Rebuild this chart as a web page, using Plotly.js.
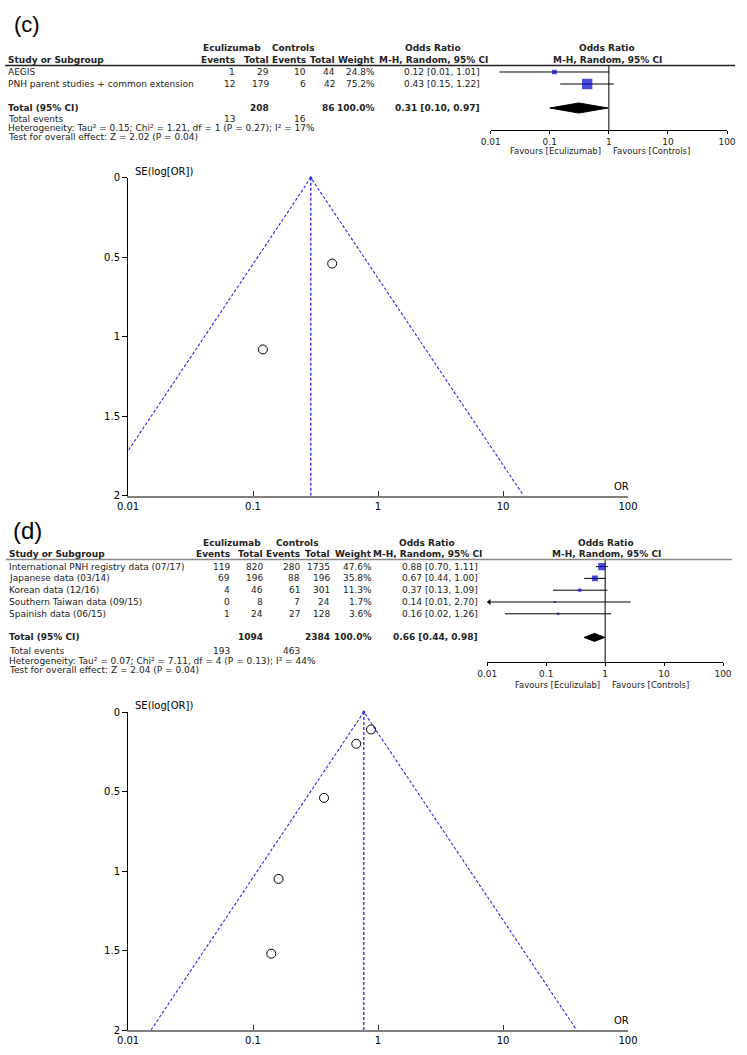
<!DOCTYPE html>
<html>
<head>
<meta charset="utf-8">
<script src="https://cdn.plot.ly/plotly-3.0.1.min.js"></script>
<style>
  body { margin: 0; background: #fff; }
  #graph { width: 747px; height: 1055px; }
</style>
</head>
<body>
<div id="graph"></div>
<script>
// ---- (c) Eculizumab vs controls ----
const cStudies = ['AEGIS', 'PNH parent studies + common extension'];
const cEcuEvents = [1, 12];
const cEcuTotal = [29, 179];
const cCtrlEvents = [10, 6];
const cCtrlTotal = [44, 42];
const cWeight = [24.8, 75.2];
const cOR = [0.12, 0.43];
const cLow = [0.014, 0.15];
const cHigh = [1.01, 1.22];
const cOrText = ['0.12 [0.01, 1.01]', '0.43 [0.15, 1.22]'];
const cPooled = [0.10, 0.31, 0.97];          // low, estimate, high
const cTotals = ['208', '86', '100.0%', '0.31 [0.10, 0.97]'];
const cTotalEvents = ['13', '16'];
const cHetero = 'Heterogeneity: Tau² = 0.15; Chi² = 1.21, df = 1 (P = 0.27); I² = 17%';
const cTest = 'Test for overall effect: Z = 2.02 (P = 0.04)';
const cFunnelOR = [0.12, 0.43];
const cFunnelSE = [1.08, 0.54];
const cFunnelCenter = 0.29;

// ---- (d) registry data ----
const dStudies = ['International PNH registry data (07/17)', 'Japanese data (03/14)',
  'Korean data (12/16)', 'Southern Taiwan data (09/15)', 'Spainish data (06/15)'];
const dEcuEvents = [119, 69, 4, 0, 1];
const dEcuTotal = [820, 196, 46, 8, 24];
const dCtrlEvents = [280, 88, 61, 7, 27];
const dCtrlTotal = [1735, 196, 301, 24, 128];
const dWeight = [47.6, 35.8, 11.3, 1.7, 3.6];
const dOR = [0.88, 0.67, 0.37, 0.14, 0.16];
const dLow = [0.70, 0.44, 0.13, 0.007, 0.02];
const dHigh = [1.11, 1.00, 1.09, 2.70, 1.26];
const dOrText = ['0.88 [0.70, 1.11]', '0.67 [0.44, 1.00]', '0.37 [0.13, 1.09]',
  '0.14 [0.01, 2.70]', '0.16 [0.02, 1.26]'];
const dPooled = [0.44, 0.66, 0.98];
const dTotals = ['1094', '2384', '100.0%', '0.66 [0.44, 0.98]'];
const dTotalEvents = ['193', '463'];
const dHetero = 'Heterogeneity: Tau² = 0.07; Chi² = 7.11, df = 4 (P = 0.13); I² = 44%';
const dTest = 'Test for overall effect: Z = 2.04 (P = 0.04)';
const dFunnelOR = [0.88, 0.67, 0.37, 0.14, 0.16];
const dFunnelSE = [0.11, 0.20, 0.54, 1.52, 1.05];
const dFunnelCenter = 0.77;

const orTicks = [0.01, 0.1, 1, 10, 100];
const orTickText = ['0.01', '0.1', '1', '10', '100'];

const W = 747, H = 1055;
const px = v => v / W;
const py = v => 1 - v / H;
const TF = 'DejaVu Sans, Verdana, sans-serif';
const BLUE = '#0000cc';
const FUNNEL_BLUE = '#2626ff';

let traces = [], annotations = [], shapes = [];

function txt(text, x, y, anchor, opts) {
    opts = opts || {};
    annotations.push({
        text: opts.bold ? '<b>' + text + '</b>' : text,
        x: px(x), xref: 'paper',
        y: opts.yref ? y : py(y), yref: opts.yref || 'paper',
        xanchor: anchor, yanchor: 'middle', showarrow: false,
        font: { family: opts.family || TF, size: opts.size || 9, color: opts.color || '#222' }
    });
}

// cfg: pixel geometry of one forest panel
function forestPanel(s, cfg) {
    const n = s.studies.length, xa = 'x' + cfg.ax, ya = 'y' + cfg.ax, yr = 'y' + cfg.ax;
    const totalRow = n + 1;
    txt(s.label, cfg.labelX, cfg.labelY, 'left', { size: cfg.labelSize, family: 'Liberation Sans, Arial, sans-serif', color: '#000' });
    // headers
    txt('Eculizumab', cfg.ecuHead, cfg.head1, 'center', { bold: true });
    txt('Controls', cfg.ctrlHead, cfg.head1, 'center', { bold: true });
    txt('Odds Ratio', cfg.orHead, cfg.head1, 'center', { bold: true });
    txt('Odds Ratio', cfg.forestHead, cfg.head1, 'center', { bold: true });
    txt('Study or Subgroup', cfg.left, cfg.head2, 'left', { bold: true });
    const cols = cfg.cols;
    ['Events', 'Total', 'Events', 'Total', 'Weight'].forEach((h, i) => txt(h, cols[i], cfg.head2, 'right', { bold: true }));
    txt('M-H, Random, 95% CI', cfg.orHead, cfg.head2, 'center', { bold: true });
    txt('M-H, Random, 95% CI', cfg.forestHead, cfg.head2, 'center', { bold: true });
    shapes.push({ type: 'line', xref: 'paper', yref: 'paper', x0: px(cfg.left - 1), x1: px(cfg.lineEnd),
        y0: py(cfg.lineY), y1: py(cfg.lineY), line: { color: cfg.lineColor, width: 1.3 } });

    // study rows
    s.studies.forEach((name, i) => {
        const o = { yref: yr };
        txt(name, cfg.left, i, 'left', o);
        txt(String(s.ecuEvents[i]), cols[0], i, 'right', o);
        txt(String(s.ecuTotal[i]), cols[1], i, 'right', o);
        txt(String(s.ctrlEvents[i]), cols[2], i, 'right', o);
        txt(String(s.ctrlTotal[i]), cols[3], i, 'right', o);
        txt(s.weight[i].toFixed(1) + '%', cols[4], i, 'right', o);
        txt(s.orText[i], cols[5], i, 'right', o);
    });
    // total row
    txt('Total (95% CI)', cfg.left, totalRow, 'left', { yref: yr, bold: true });
    txt(s.totals[0], cols[1], totalRow, 'right', { yref: yr, bold: true });
    txt(s.totals[1], cols[3], totalRow, 'right', { yref: yr, bold: true });
    txt(s.totals[2], cols[4], totalRow, 'right', { yref: yr, bold: true });
    txt(s.totals[3], cols[5], totalRow, 'right', { yref: yr, bold: true });
    txt('Total events', cfg.left, cfg.evY, 'left');
    txt(s.totalEvents[0], cols[0], cfg.evY, 'right');
    txt(s.totalEvents[1], cols[2], cfg.evY, 'right');
    txt(s.hetero, cfg.left, cfg.hetY, 'left');
    txt(s.test, cfg.left, cfg.testY, 'left');
    txt('Favours [' + s.favName + ']', cfg.favSplit - 4, cfg.favY, 'right', { size: 8.5 });
    txt('Favours [Controls]', cfg.favSplit + 4, cfg.favY, 'left', { size: 8.5 });

    const rows = s.studies.map((_, i) => i);
    // reference line at OR = 1
    traces.push({ x: [1, 1], y: [cfg.yTop, cfg.yBottom], xaxis: xa, yaxis: ya, mode: 'lines',
        line: { color: '#000', width: 1 }, hoverinfo: 'skip' });
    // CI whiskers
    const cx = [], cy = [];
    rows.forEach(i => { cx.push(s.low[i], s.high[i], null); cy.push(i, i, null); });
    traces.push({ x: cx, y: cy, xaxis: xa, yaxis: ya, mode: 'lines', line: { color: '#000', width: 1 }, hoverinfo: 'skip' });
    // arrows for CIs beyond axis
    const arr = rows.filter(i => s.low[i] < 0.01);
    if (arr.length) {
        traces.push({ x: arr.map(() => 0.0108), y: arr, xaxis: xa, yaxis: ya, mode: 'markers',
            marker: { symbol: 'triangle-left', size: 5, color: '#000' }, hoverinfo: 'skip' });
    }
    // weighted squares
    traces.push({ x: s.or, y: rows, xaxis: xa, yaxis: ya, mode: 'markers',
        marker: { symbol: 'square', color: BLUE, size: s.weight.map(w => 2 + w * 0.11), line: { width: 0 } } });
    // pooled diamond
    const p = s.pooled, h = cfg.diamondH;
    traces.push({ x: [p[0], p[1], p[2], p[1], p[0]], y: [totalRow, totalRow - h, totalRow, totalRow + h, totalRow],
        xaxis: xa, yaxis: ya, mode: 'lines', fill: 'toself', fillcolor: '#000', line: { color: '#000', width: 1 } });
}

function funnelPanel(s, cfg) {
    const xa = 'x' + cfg.ax, ya = 'y' + cfg.ax;
    const c = s.center, seMax = 2;
    traces.push({ x: [c, c], y: [0, seMax], xaxis: xa, yaxis: ya, mode: 'lines',
        line: { color: FUNNEL_BLUE, width: 1.3, dash: '3px,2px' }, hoverinfo: 'skip' });
    traces.push({ x: [c * Math.exp(-1.96 * seMax), c, c * Math.exp(1.96 * seMax)], y: [seMax, 0, seMax],
        xaxis: xa, yaxis: ya, mode: 'lines', line: { color: FUNNEL_BLUE, width: 1.1, dash: '3px,2px' }, hoverinfo: 'skip' });
    traces.push({ x: [c], y: [0], xaxis: xa, yaxis: ya, mode: 'markers', cliponaxis: false,
        marker: { size: 3, color: FUNNEL_BLUE }, hoverinfo: 'skip' });
    traces.push({ x: s.or, y: s.se, xaxis: xa, yaxis: ya, mode: 'markers',
        marker: { symbol: 'circle-open', size: 9, color: '#000', line: { width: 1, color: '#000' } } });
    txt('SE(log[OR])', cfg.seX, cfg.seY, 'left', { size: 10, color: '#000' });
    txt('OR', cfg.orX, cfg.orY, 'center', { size: 10, color: '#000' });
}

forestPanel({
    label: '(c)', studies: cStudies, ecuEvents: cEcuEvents, ecuTotal: cEcuTotal, ctrlEvents: cCtrlEvents,
    ctrlTotal: cCtrlTotal, weight: cWeight, or: cOR, low: cLow, high: cHigh, orText: cOrText,
    pooled: cPooled, totals: cTotals, totalEvents: cTotalEvents, hetero: cHetero, test: cTest, favName: 'Eculizumab'
}, {
    ax: 2, labelX: 12, labelY: 24, labelSize: 22, left: 6, head1: 48.5, head2: 60,
    ecuHead: 232, ctrlHead: 293, orHead: 433, forestHead: 607,
    cols: [237, 271, 308, 337, 377, 482], lineY: 65.5, lineEnd: 735, lineColor: '#222',
    evY: 119, hetY: 128.5, testY: 137.5, favY: 151, favSplit: 607,
    yTop: -0.54, yBottom: 4.83, diamondH: 0.42
});

forestPanel({
    label: '(d)', studies: dStudies, ecuEvents: dEcuEvents, ecuTotal: dEcuTotal, ctrlEvents: dCtrlEvents,
    ctrlTotal: dCtrlTotal, weight: dWeight, or: dOR, low: dLow, high: dHigh, orText: dOrText,
    pooled: dPooled, totals: dTotals, totalEvents: dTotalEvents, hetero: dHetero, test: dTest, favName: 'Eculizulab'
}, {
    ax: 4, labelX: 11, labelY: 530, labelSize: 24, left: 7, head1: 542.5, head2: 554,
    ecuHead: 232, ctrlHead: 297, orHead: 427, forestHead: 606,
    cols: [232, 265, 302, 332, 374, 480], lineY: 559.5, lineEnd: 732, lineColor: '#888',
    evY: 651, hetY: 660.5, testY: 670, favY: 685, favSplit: 606,
    yTop: -0.6, yBottom: 8.085, diamondH: 0.34
});

funnelPanel({ or: cFunnelOR, se: cFunnelSE, center: cFunnelCenter },
    { ax: '', seX: 133, seY: 171, orX: 621, orY: 486 });
funnelPanel({ or: dFunnelOR, se: dFunnelSE, center: dFunnelCenter },
    { ax: 3, seX: 133, seY: 705, orX: 621, orY: 1020 });

const forestX = dom => ({
    type: 'log', range: [-2, 2], domain: dom, showgrid: false, zeroline: false,
    showline: true, linecolor: '#000', linewidth: 1, ticks: 'outside', ticklen: 3, tickcolor: '#000',
    tickvals: orTicks, ticktext: orTickText, tickfont: { family: TF, size: 9, color: '#222' }, fixedrange: true
});
const forestY = (range, dom) => ({ range: range, domain: dom, visible: false, fixedrange: true });
const funnelX = (anchor) => ({
    type: 'log', range: [-2, 2], domain: [px(128), px(628)], anchor: anchor, showgrid: false, zeroline: false,
    showline: true, linecolor: '#808080', linewidth: 2, ticks: 'inside', ticklen: 5, tickcolor: '#333',
    tickvals: orTicks, ticktext: orTickText, tickfont: { family: TF, size: 10, color: '#000' }
});
const funnelY = (dom, anchor) => ({
    range: [2, 0], domain: dom, anchor: anchor, showgrid: false, zeroline: false,
    showline: true, linecolor: '#000', linewidth: 1, ticks: 'outside', ticklen: 5, tickcolor: '#000',
    tickvals: [0, 0.5, 1, 1.5, 2], ticktext: ['0', '0.5', '1', '1.5', '2'],
    tickfont: { family: TF, size: 10, color: '#000' }
});

const layout = {
    width: W, height: H, margin: { l: 0, r: 0, t: 0, b: 0 }, showlegend: false,
    paper_bgcolor: '#fff', plot_bgcolor: 'rgba(0,0,0,0)',
    xaxis: funnelX('y'), yaxis: funnelY([py(495.7), py(177.7)], 'x'),
    xaxis2: Object.assign(forestX([px(490.7), px(727)]), { anchor: 'y2' }),
    yaxis2: Object.assign(forestY([4.83, -0.54], [py(130), py(65.5)]), { anchor: 'x2' }),
    xaxis3: funnelX('y3'), yaxis3: funnelY([py(1030), py(712)], 'x3'),
    xaxis4: Object.assign(forestX([px(487.3), px(723)]), { anchor: 'y4' }),
    yaxis4: Object.assign(forestY([8.085, -0.6], [py(662), py(559.5)]), { anchor: 'x4' }),
    annotations: annotations, shapes: shapes
};

Plotly.newPlot('graph', traces, layout, { staticPlot: true });
</script>
</body>
</html>
